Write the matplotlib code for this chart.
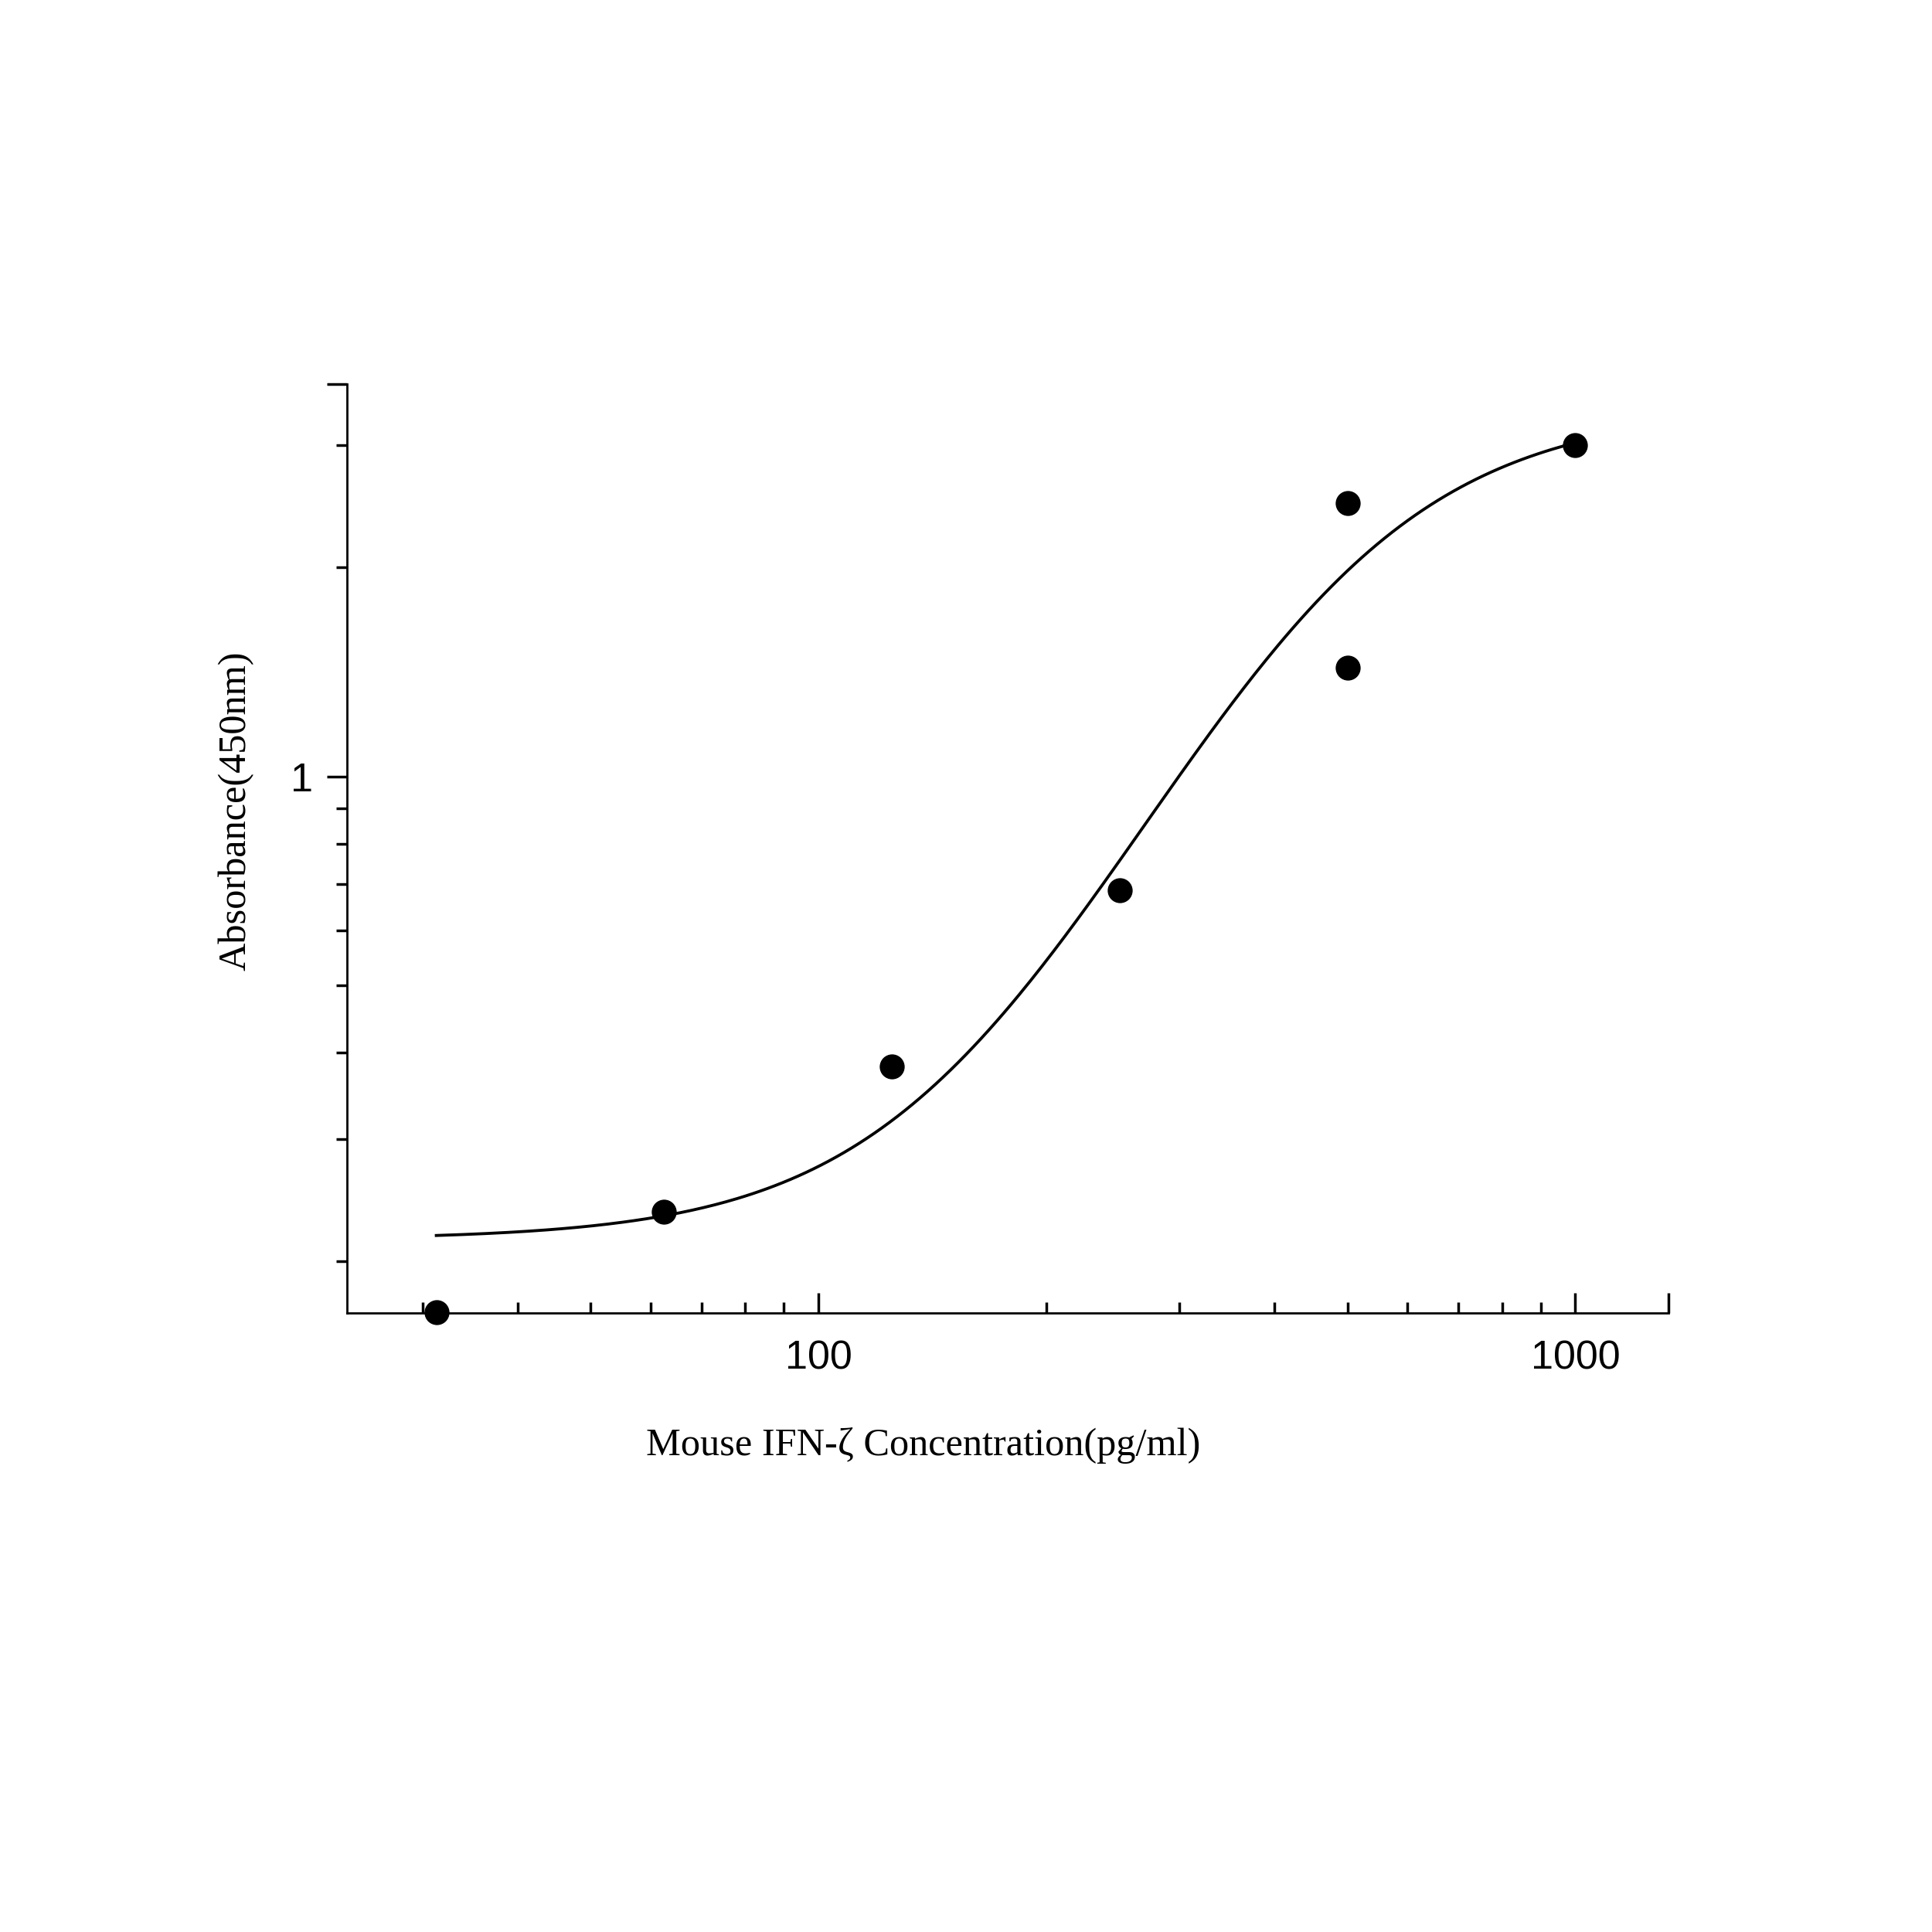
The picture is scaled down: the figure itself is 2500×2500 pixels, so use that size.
import numpy as np
from matplotlib import pyplot as plt

conc = [31.25, 62.5, 125, 250, 500, 500, 1000]
absorb = [0.169, 0.236, 0.382, 0.685, 1.436, 2.48, 3.0]

# fitted 4PL curve parameters
A, D, C, B = 0.215, 3.4, 460.0, 2.6

xmin, xmax = 23.8, 1327
ymin, ymax = 0.1686, 3.68

fig = plt.figure(figsize=(10, 10), dpi=250)
ax = fig.add_axes([0.1795, 0.3205, 0.684, 0.4808])

xs = np.logspace(np.log10(31.25), np.log10(1000), 300)
ys = D + (A - D) / (1 + (xs / C) ** B)
ax.plot(xs, ys, color='black', lw=1.1)
ax.plot(conc, absorb, 'o', color='black', ms=8.3, clip_on=False, zorder=5)

ax.set_xscale('log')
ax.set_yscale('log')
ax.set_xlim(xmin, xmax)
ax.set_ylim(ymin, ymax)

ax.spines['top'].set_visible(False)
ax.spines['right'].set_visible(False)

ax.set_xticks([100, 1000, xmax], ['100', '1000', ''])
ax.set_xticks([30, 40, 50, 60, 70, 80, 90, 200, 300, 400, 500, 600, 700, 800, 900], minor=True)
ax.set_xticklabels([], minor=True)
ax.set_yticks([1, ymax], ['1', ''])
ax.set_yticks([0.2, 0.3, 0.4, 0.5, 0.6, 0.7, 0.8, 0.9, 2, 3], minor=True)
ax.set_yticklabels([], minor=True)

ax.tick_params(which='major', length=7.5, width=1, labelsize=15)
ax.tick_params(which='minor', length=4, width=1)
ax.tick_params(axis='x', which='both', direction='in', pad=10)
ax.tick_params(axis='y', which='both', direction='out', pad=5)
for t in ax.get_xticklabels() + ax.get_yticklabels():
    t.set_family('Liberation Sans')

ax.set_xlabel('Mouse IFN-ζ Concentration(pg/ml)', family='Liberation Serif', fontsize=14.5)
ax.set_ylabel('Absorbance(450nm)', family='Liberation Serif', fontsize=14.5)
ax.xaxis.set_label_coords(0.436, -0.123)
ax.yaxis.set_label_coords(-0.070, 0.54)

fig.savefig('out.png')
